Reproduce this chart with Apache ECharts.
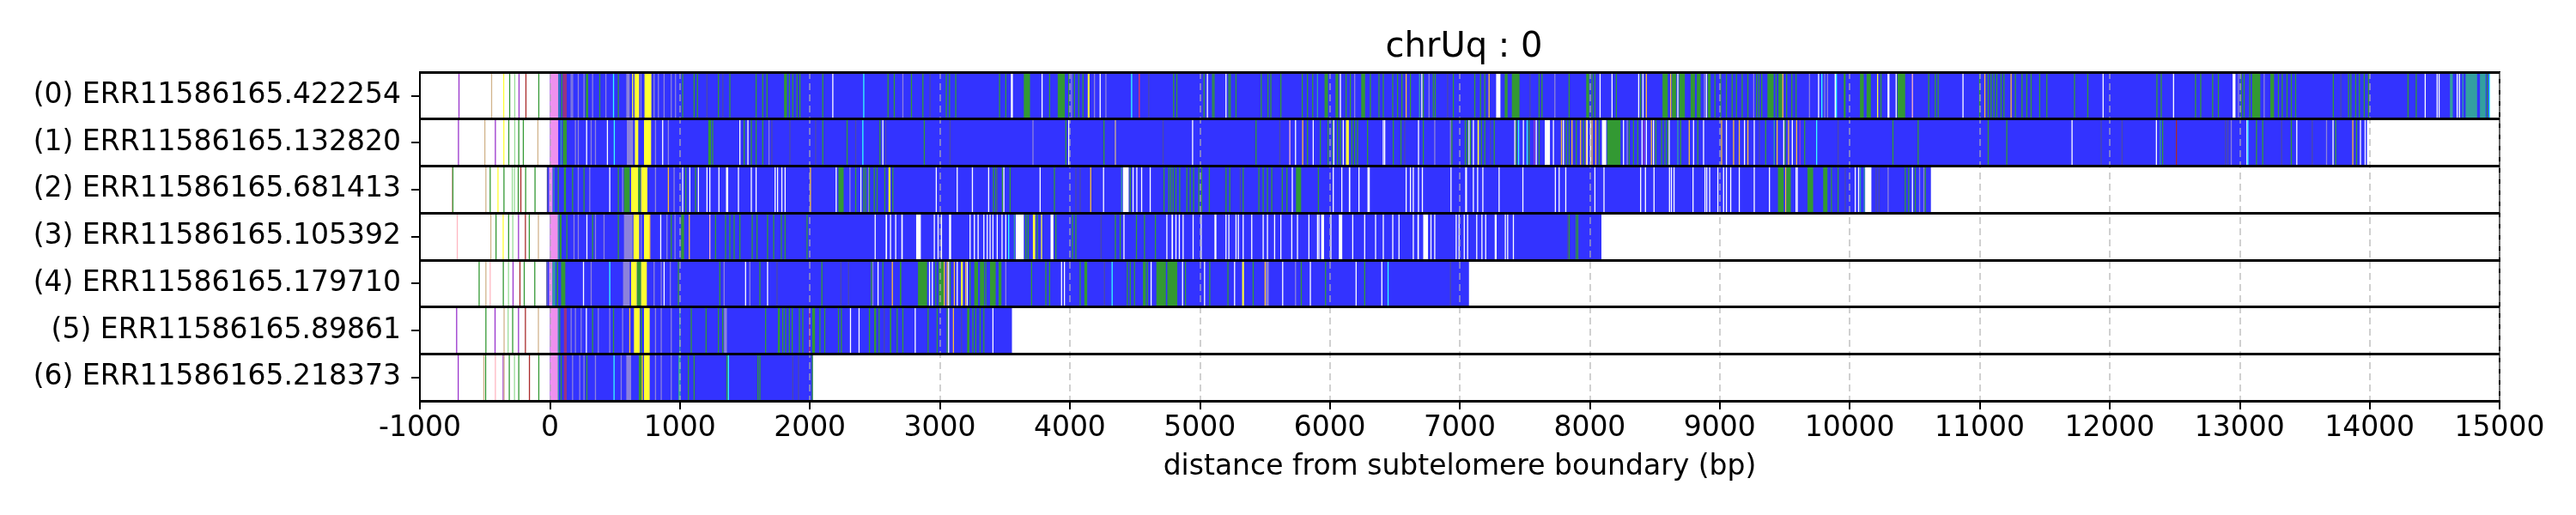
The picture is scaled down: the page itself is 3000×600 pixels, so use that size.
<!DOCTYPE html>
<html>
<head>
<meta charset="utf-8">
<script src="https://cdn.jsdelivr.net/npm/echarts@6/dist/echarts.min.js"></script>
<style>
  html, body { margin: 0; padding: 0; background: #fff; }
  #reads { width: 3000px; height: 600px; }
</style>
</head>
<body>
<div id="reads"></div>
<script>
// read names, top to bottom
var readLabels = [
    '(0) ERR11586165.422254',
    '(1) ERR11586165.132820',
    '(2) ERR11586165.681413',
    '(3) ERR11586165.105392',
    '(4) ERR11586165.179710',
    '(5) ERR11586165.89861',
    '(6) ERR11586165.218373'
];

// extent of the blue part of each read (bp)
var readStart = [0, 0, -20, 0, -20, 0, 0];
var readEnd = [14925, 13980, 10625, 8090, 7071, 3555, 2022];

// motif colours
var motifColors = {
    B: '#3333ff', G: '#339933', W: '#ffffff', Y: '#ffff33', P: '#ee90ee',
    L: '#8c82dc', C: '#33ffff', T: '#33a0a0', M: '#9933cc', R: '#aa2a2a',
    N: '#d2b48c', H: '#99dd99', K: '#ffb6c1', O: '#ffc030', D: '#4a4aa8',
    V: '#993380', S: '#ee3355'
};

// stripes per read: [pos, motif] for thin ones, [start, end, motif] for bands
var read0 = [[-700,'M'],[-449,'N'],[-356,'Y'],[-310,'G'],[-271,'H'],[-238,'M'],[-185,'R'],[-86,'G'],
    [0,64,'P'],[70,'T'],[90,'G'],[100,130,'V'],[163,'L'],[174,'L'],[218,'L'],[262,'L'],[277,295,'G'],[328,'L'],[383,'G'],[430,'L'],[489,'C'],[526,'G'],[588,614,'L'],[636,'Y'],[651,687,'Y'],[700,'L'],[728,781,'Y'],[801,'L'],[834,'L'],[878,'L'],[933,'L'],[966,'L'],[1021,'G'],[1109,'G'],[1135,'G'],[1208,'D'],[1296,'G'],[1330,'D'],[1384,'G'],
    [1586,'G'],[1637,'G'],[1670,'G'],[1802,1824,'G'],[1842,'G'],[1868,'G'],[1901,'G'],[1923,'G'],[2099,'G'],[2176,'W'],[2414,'C'],[2601,'G'],[2649,'G'],[2715,'L'],[2781,'G'],[2869,'G'],[2924,'D'],[3049,'G'],[3074,'G'],[3122,'G'],[3459,'G'],[3507,'G'],[3547,3562,'W'],[3646,3694,'G'],[3786,'W'],[3844,'G'],[3907,3962,'G'],[3991,'G'],[4013,'L'],[4035,'G'],[4068,'G'],
    [4101,'G'],[4138,4152,'Y'],[4189,'L'],[4233,'W'],[4277,'L'],[4475,'C'],[4534,'S'],[4607,'D'],[4798,'G'],[4823,'G'],[5032,'G'],[5058,'W'],[5098,'G'],[5109,'G'],[5201,'W'],[5223,'G'],[5234,'G'],[5278,'G'],[5472,'G'],[5524,'G'],[5546,'G'],[5623,'G'],[5788,'G'],[5828,'G'],[5868,'G'],[5905,'T'],[5960,5986,'G'],[6044,6066,'G'],[6081,'W'],[6125,'G'],[6158,'G'],[6191,'L'],[6242,6272,'G'],[6312,'G'],[6378,'G'],[6411,'G'],[6484,'G'],[6521,'G'],[6554,'G'],[6587,'O'],[6620,'G'],
    [6690,'T'],[6704,6712,'W'],[6719,'G'],[6763,'L'],[6796,'G'],[6811,'G'],[6906,'D'],[6950,'G'],[7115,'G'],[7159,'G'],[7192,'G'],[7225,'O'],[7280,7313,'W'],[7346,7368,'G'],[7401,7460,'G'],[7540,'D'],[7610,'G'],[7632,'G'],[7731,'L'],[7841,'G'],[7973,7995,'G'],[8017,'G'],[8039,'G'],[8079,'W'],[8171,'W'],[8204,'G'],[8376,'W'],[8391,'G'],[8409,'W'],[8435,'O'],[8560,8600,'G'],[8622,'O'],[8633,8666,'G'],[8677,'W'],[8688,8732,'G'],[8776,8809,'G'],[8824,8853,'G'],[8882,'L'],[8897,'W'],[8908,8930,'G'],[8963,'G'],[9007,'G'],[9051,'G'],[9095,'G'],[9128,'G'],[9172,'G'],[9216,'G'],
    [9261,'L'],[9283,'G'],[9301,'G'],[9323,'G'],[9367,9415,'G'],[9433,'G'],[9452,9481,'G'],[9485,'O'],[9514,'G'],[9554,'G'],[9587,'G'],[9690,'L'],[9760,'W'],[9785,'C'],[9807,'L'],[9829,'L'],[9888,'W'],[9897,'C'],[9954,9969,'G'],[10079,10108,'G'],[10130,10163,'G'],[10214,'Y'],[10240,'G'],[10291,10306,'W'],[10357,'W'],[10368,10427,'G'],[10482,'K'],[10607,'G'],[10658,'G'],[10680,'G'],[10871,'W'],[10999,'G'],[11039,'O'],[11065,'G'],[11087,'G'],[11109,'G'],[11131,'G'],[11164,'G'],[11186,'G'],[11241,'O'],[11274,'G'],[11325,'G'],[11362,'G'],[11395,'G'],[11461,'G'],[11516,'G'],[11729,'G'],
    [11831,'G'],[11949,'W'],[12363,'G'],[12396,'G'],[12491,'W'],[12660,'G'],[12700,'G'],[12792,'G'],[12836,'G'],[12946,12968,'W'],[12990,'L'],[13012,'G'],[13034,'G'],[13078,'G'],[13096,13159,'G'],[13188,'L'],[13236,13265,'G'],[13298,'G'],[13327,'G'],[13364,'G'],[13397,'G'],[13430,'G'],[13720,'G'],[13778,'D'],[13837,'G'],[13855,'G'],[13892,'G'],[13921,'G'],[13958,'G'],[13991,'G'],[14295,'G'],[14358,'G'],[14427,'W'],[14519,'W'],[14534,'W'],[14618,14640,'T'],[14673,'W'],[14690,'W'],[14717,'T'],[14739,14827,'T'],[14849,14893,'T'],[14904,'G'],[14922,'C']];

var read1 = [[-704,'M'],[-501,'N'],[-420,'M'],[-355,'Y'],[-317,'G'],[-271,'H'],[-240,'G'],[-205,'G'],[-93,'N'],
    [0,64,'P'],[86,'T'],[100,130,'G'],[196,'L'],[218,'L'],[282,'W'],[317,'L'],[350,'L'],[442,'W'],[495,'C'],[592,640,'L'],[654,680,'Y'],[724,779,'Y'],[812,'L'],[867,'W'],[911,'L'],[1219,1241,'G'],[1252,'G'],[1461,'W'],[1494,'G'],
    [1523,'W'],[1549,'G'],[1586,'G'],[1637,'G'],[1685,'L'],[1707,'D'],[1846,'D'],[2044,'D'],[2099,'G'],[2286,'G'],[2352,'D'],[2407,'C'],[2539,'G'],[2561,'W'],[2583,'D'],[2880,'G'],[3078,'D'],[3716,'L'],[3969,'G'],[3991,'W'],
    [4262,'G'],[4350,'N'],[4717,'D'],[4944,'W'],[5432,'G'],[5615,'D'],[5692,'K'],[5736,'W'],[5791,'O'],[5828,'G'],[5872,'W'],[5927,'G'],[5986,'G'],[6022,'G'],[6030,'W'],[6059,'G'],[6081,'G'],[6103,'W'],[6125,6147,'Y'],[6169,'G'],[6191,'G'],[6213,'G'],[6290,'G'],[6411,'W'],[6422,'W'],[6488,'G'],[6547,'G'],[6576,'D'],
    [6682,'W'],[6719,'G'],[6807,'L'],[6928,'L'],[6939,'G'],[7042,'G'],[7060,'G'],[7071,'W'],[7082,'G'],[7104,'W'],[7137,7148,'Y'],[7166,'G'],[7192,'G'],[7236,'D'],[7265,'G'],[7423,'W'],[7434,'G'],[7452,'C'],[7489,'W'],[7518,'C'],[7533,'G'],[7573,'M'],[7588,'W'],[7610,'G'],[7654,7694,'W'],[7720,'W'],[7782,'O'],[7797,'W'],[7819,'G'],[7841,'G'],[7863,'O'],[7896,'G'],[7929,'O'],[7951,'G'],[7973,'O'],[7980,'W'],[8006,'W'],[8017,'O'],[8046,'O'],[8072,'G'],[8094,8127,'W'],[8134,8237,'G'],[8259,'W'],[8288,'L'],[8303,'G'],[8336,'G'],[8369,'G'],[8402,'W'],[8417,'M'],[8435,'W'],[8474,'O'],[8490,'W'],[8508,'G'],[8552,'G'],[8578,'G'],[8600,'G'],[8611,'W'],[8677,'T'],[8699,'G'],[8765,'O'],[8798,'W'],[8831,'G'],[8875,'W'],[9014,'O'],[9051,'W'],[9106,'O'],[9150,'O'],[9190,'W'],[9216,'O'],
    [9265,'W'],[9305,'D'],[9353,'G'],[9419,'T'],[9441,'O'],[9492,'W'],[9503,'G'],[9529,'O'],[9558,'W'],[9591,'O'],[9617,'M'],[9653,'G'],[9745,'C'],[9910,'D'],[10332,'G'],[10526,'G'],[11065,'G'],[11208,'G'],[11710,'W'],
    [11934,'D'],[12095,'D'],[12359,'W'],[12389,'T'],[12407,'G'],[12513,'R'],[12891,'D'],[12909,'D'],[12935,'L'],[13056,'W'],[13063,'C'],[13129,'G'],[13177,'G'],[13322,'D'],[13397,'G'],[13439,'W'],[13558,'D'],[13668,'L'],[13718,'W'],[13738,'G'],[13870,'O'],[13899,'G'],[13929,'W'],[13965,'W']];

var read2 = [[-753,'K'],[-747,'G'],[-493,'N'],[-460,'G'],[-400,'Y'],[-354,'G'],[-290,'H'],[-273,'H'],[-244,'G'],[-224,'R'],[-187,'G'],[-115,'G'],
    [-20,'D'],[-6,20,'P'],[30,'T'],[64,'G'],[108,124,'G'],[174,'G'],[218,'L'],[262,'G'],[306,'L'],[460,'W'],[526,'G'],[559,'L'],[570,614,'G'],[625,680,'Y'],[680,698,'G'],[702,750,'Y'],[812,'L'],[911,'O'],[955,'L'],[1021,'W'],[1045,'G'],[1076,'W'],[1120,'G'],[1142,'W'],[1208,'W'],[1230,'W'],[1300,'W'],[1355,1372,'W'],[1450,'W'],
    [1549,'W'],[1586,'W'],[1732,'W'],[1751,'W'],[1784,'W'],[1809,'W'],[2004,'O'],[2202,'W'],[2220,2260,'G'],[2308,'L'],[2352,'G'],[2392,'W'],[2414,'G'],[2429,'G'],[2451,'L'],[2458,'G'],[2495,'G'],[2517,'G'],[2576,'G'],[2605,2620,'Y'],[2638,'G'],[2972,'W'],[3133,'W'],[3250,'W'],[3375,'W'],[3412,'G'],[3430,'G'],[3441,'D'],[3481,'G'],[3492,'W'],[3540,'G'],[3771,'W'],[3881,'G'],[4046,'D'],[4079,'D'],
    [4160,'O'],[4259,'W'],[4409,4453,'W'],[4398,'T'],[4464,'G'],[4486,'W'],[4515,'W'],[4552,'W'],[4618,'W'],[4724,'G'],[4761,'G'],[4776,'G'],[4794,'G'],[4816,'G'],[4845,'G'],[4900,'G'],[4926,'G'],[4952,'G'],[4992,'G'],[5014,'G'],[5073,'G'],[5201,'G'],[5230,'G'],[5311,'D'],[5333,'G'],[5454,'G'],[5487,'G'],[5520,'G'],[5553,'G'],[5634,'G'],[5670,'G'],[5711,'W'],[5740,5780,'G'],[5912,'G'],[6026,'W'],[6092,'W'],[6147,6158,'W'],[6224,'W'],[6290,6308,'W'],[6587,'W'],[6620,'W'],[6642,'W'],
    [6682,'W'],[6712,'W'],[6932,'W'],[7042,7056,'W'],[7104,'W'],[7137,'W'],[7177,'W'],[7302,'W'],[7485,'W'],[7735,'W'],[7764,'W'],[7815,'W'],[8039,'W'],[8109,'W'],[8391,'W'],[8428,'W'],[8494,'W'],[8613,'W'],[8628,'W'],[8648,'W'],[8794,'W'],[8886,'W'],[8900,'W'],[8922,'W'],[8985,'W'],[9029,'W'],[9051,'W'],[9084,'W'],[9150,'W'],
    [9265,'W'],[9382,'W'],[9448,9492,'G'],[9507,'O'],[9514,9547,'G'],[9587,'W'],[9596,'W'],[9675,9719,'G'],[9796,9829,'G'],[9859,'G'],[9910,'G'],[9965,'D'],[10042,'W'],[10068,'W'],[10081,'T'],[10119,10167,'W'],[10112,'T'],[10203,'D'],[10225,'D'],[10295,'L'],[10427,'G'],[10453,'G'],[10482,'W'],[10504,'G'],[10537,'L'],[10570,'L'],[10581,'G']];

var read3 = [[-713,'K'],[-455,'N'],[-415,'G'],[-360,'Y'],[-318,'G'],[-286,'H'],[-242,'M'],[-189,'R'],[-159,'G'],[-89,'N'],
    [0,64,'P'],[64,'T'],[75,90,'G'],[130,'G'],[185,'L'],[218,'L'],[284,'W'],[328,'G'],[350,'L'],[416,'L'],[526,'G'],[570,636,'L'],[643,687,'Y'],[702,'L'],[724,768,'Y'],[768,'O'],[852,'W'],[900,'L'],[933,'G'],[962,'L'],[1010,1032,'G'],[1072,'O'],[1230,'K'],[1274,'G'],[1351,'G'],[1384,'G'],[1417,'G'],[1461,'G'],
    [1556,'G'],[1593,'G'],[1674,'G'],[1721,'G'],[1780,'G'],[1809,'G'],[1978,'G'],[2502,'W'],[2583,2594,'W'],[2620,'W'],[2660,'W'],[2704,2715,'W'],[2818,2854,'W'],[2957,'W'],[2986,'W'],[3012,'W'],[3071,3087,'W'],[3232,'W'],[3265,'W'],[3294,'W'],[3338,'W'],[3364,'W'],[3386,'W'],[3408,'W'],[3441,'W'],[3478,'W'],[3507,'W'],[3529,'C'],[3573,'T'],[3584,3646,'W'],[3661,'G'],[3679,'G'],[3716,3734,'Y'],[3749,'G'],[3782,'Y'],[3852,3874,'W'],[3892,'G'],[4020,'G'],[4046,'G'],
    [4240,'D'],[4350,'G'],[4387,'G'],[4416,'W'],[4512,'G'],[4574,'G'],[4658,'G'],[4746,'W'],[4783,4794,'W'],[4816,'W'],[4842,'W'],[4871,'W'],[4948,'W'],[5010,'W'],[5113,5128,'W'],[5201,'W'],[5223,'W'],[5278,'W'],[5296,'W'],[5333,'W'],[5399,'W'],[5487,'W'],[5520,'W'],[5575,'W'],[5623,'W'],[5707,'W'],[5751,'W'],[5839,'W'],[5905,'W'],[5916,'W'],[5934,5956,'W'],[6008,'W'],[6070,6096,'W'],[6176,'W'],[6268,'W'],[6352,'W'],[6411,'W'],[6484,'W'],[6532,'W'],[6642,'W'],
    [6675,6686,'W'],[6719,6756,'W'],[6778,'W'],[6807,'W'],[6972,'W'],[6994,'W'],[7034,'W'],[7060,'W'],[7130,'W'],[7170,'W'],[7199,'W'],[7269,7284,'W'],[7350,'W'],[7368,'W'],[7412,'W'],[7830,'D'],[7841,'G'],[7896,'G'],[7907,'G']];

var read4 = [[-545,'G'],[-493,'N'],[-460,'K'],[-359,'G'],[-319,'H'],[-284,'M'],[-231,'R'],[-198,'G'],[-117,'G'],
    [-24,'D'],[-6,20,'P'],[20,42,'T'],[53,64,'G'],[86,119,'G'],[258,'W'],[317,'L'],[460,'C'],[563,614,'L'],[625,669,'Y'],[671,702,'G'],[702,746,'Y'],[801,'L'],[856,'L'],[878,'W'],[926,'L'],[988,'G'],[1307,'G'],[1340,'L'],[1505,'W'],
    [1538,'L'],[1615,'G'],[1674,'W'],[1747,'D'],[2092,'G'],[2238,'D'],[2297,'D'],[2473,'G'],[2484,'L'],[2524,'W'],[2561,'G'],[2634,'O'],[2693,2704,'G'],[2832,2902,'G'],[2920,'W'],[2942,'W'],[2968,'G'],[2990,3030,'G'],[3034,'O'],[3056,'O'],[3067,'W'],[3078,'G'],[3111,'O'],[3133,'W'],[3162,3177,'Y'],[3199,'O'],[3210,'W'],[3232,'G'],[3265,3294,'G'],[3309,3342,'G'],[3353,'G'],[3386,3430,'G'],[3452,3474,'G'],[3507,'L'],[3705,'G'],[3815,'G'],[3844,'G'],[3936,'W'],[3958,'W'],[4079,'G'],
    [4112,4134,'G'],[4266,'D'],[4325,'C'],[4442,'G'],[4464,'G'],[4497,'G'],[4563,4585,'G'],[4596,'G'],[4625,'W'],[4666,4739,'G'],[4750,4827,'G'],[4867,'W'],[4889,'G'],[5036,'W'],[5076,'G'],[5216,'G'],[5267,'W'],[5326,5340,'Y'],[5410,'G'],[5502,'O'],[5509,5531,'L'],[5637,'W'],[5736,'L'],[5780,'G'],[5850,'W'],[5967,'G'],[6202,'W'],[6268,'G'],[6400,'W'],[6448,'C'],
    [6928,'D']];

var read5 = [[-718,'M'],[-493,'G'],[-426,-419,'M'],[-353,'N'],[-322,'H'],[-287,'G'],[-242,'M'],[-189,'R'],[-89,'N'],
    [0,64,'P'],[64,'T'],[75,'G'],[108,130,'V'],[163,'L'],[196,'L'],[240,'L'],[280,'W'],[328,'G'],[372,'L'],[460,'L'],[489,'G'],[559,'L'],[614,'O'],[647,691,'Y'],[702,'G'],[724,768,'Y'],[812,'L'],[856,'L'],[933,'L'],[999,'T'],[1087,'G'],[1201,'G'],[1296,'G'],[1329,'G'],[1340,1362,'L'],
    [1659,'G'],[1754,1769,'G'],[1791,'G'],[1813,'G'],[1842,'G'],[1864,'G'],[1919,'G'],[1945,'G'],[1996,'V'],[2018,2040,'G'],[2077,'G'],[2114,'G'],[2220,'G'],[2242,'G'],[2312,'W'],[2378,'W'],[2458,'G'],[2495,2510,'G'],[2532,'G'],[2572,'D'],[2616,2627,'G'],[2671,'G'],[2715,'G'],[2810,'W'],[2909,'G'],[2979,'G'],[3056,'G'],[3067,'W'],[3104,'O'],[3166,'D'],[3210,3228,'G'],[3254,'G'],[3276,'G'],[3309,'G'],[3338,'G'],[3408,'W']];

var read6 = [[-706,'M'],[-509,'N'],[-495,'G'],[-420,'K'],[-360,'M'],[-353,'N'],[-313,'G'],[-273,'H'],[-240,'G'],[-158,'R'],[-86,'G'],
    [0,64,'P'],[64,'T'],[86,'G'],[108,130,'V'],[174,'L'],[229,'L'],[262,'L'],[284,'G'],[350,'L'],[493,'C'],[548,'L'],[588,625,'L'],[684,713,'G'],[710,'O'],[724,768,'Y'],[812,'L'],[856,'L'],[933,'L'],[988,1006,'T'],[1065,'G'],[1109,'G'],[1362,'G'],[1373,'C'],
    [1600,'G'],[1615,'G'],[1868,'D'],[1912,'D'],[2015,2022,'G']];

var reads = [read0, read1, read2, read3, read4, read5, read6];

// flatten to rects: [start, end, row], colours kept alongside
var rects = [];
var fills = [];
reads.forEach(function(stripes, row) {
    rects.push([readStart[row], readEnd[row], row]);
    fills.push(motifColors.B);
    stripes.forEach(function(s) {
        if (s.length === 2) {
            rects.push([s[0] - 3.5, s[0] + 3.5, row]);
            fills.push(motifColors[s[1]]);
        } else {
            rects.push([s[0], s[1], row]);
            fills.push(motifColors[s[2]]);
        }
    });
});

var readsChart = echarts.init(document.getElementById('reads'), null, { renderer: 'canvas' });

var option_reads = {
    animation: false,
    backgroundColor: '#ffffff',
    textStyle: { fontFamily: 'DejaVu Sans', color: '#000' },
    title: {
        text: 'chrUq : 0',
        left: 1700,
        top: 31,
        textAlign: 'center',
        textStyle: { fontSize: 40, fontWeight: 'normal', color: '#000', fontFamily: 'DejaVu Sans' }
    },
    grid: {
        left: 489,
        right: 89,
        top: 84,
        bottom: 133,
        show: true,
        borderColor: '#000',
        borderWidth: 2,
        backgroundColor: 'transparent'
    },
    xAxis: {
        type: 'value',
        min: -1000,
        max: 15000,
        interval: 1000,
        z: 5,
        name: 'distance from subtelomere boundary (bp)',
        nameLocation: 'middle',
        nameGap: 61,
        nameTextStyle: { fontSize: 33, color: '#000', fontFamily: 'DejaVu Sans' },
        axisLine: { show: true, onZero: false, lineStyle: { color: '#000', width: 2 } },
        axisTick: { show: true, length: 10, lineStyle: { color: '#000', width: 2 } },
        axisLabel: {
            fontSize: 33, color: '#000', margin: 16, showMinLabel: true, showMaxLabel: true,
            formatter: function(v) { return String(v); }
        },
        splitLine: {
            show: true,
            lineStyle: { color: 'rgba(176,176,176,0.6)', width: 2, type: [8, 5] }
        }
    },
    yAxis: {
        type: 'category',
        data: readLabels,
        inverse: true,
        z: 6,
        axisLine: { show: true, onZero: false, lineStyle: { color: '#000', width: 2 } },
        axisTick: { show: true, alignWithLabel: true, length: 10, lineStyle: { color: '#000', width: 2 } },
        axisLabel: { fontSize: 33, color: '#000', margin: 22 },
        splitLine: { show: true, lineStyle: { color: '#000', width: 3 } }
    },
    series: [{
        type: 'custom',
        clip: true,
        silent: true,
        encode: { x: [0, 1], y: 2 },
        data: rects,
        renderItem: function(params, api) {
            var p0 = api.coord([api.value(0), api.value(2)]);
            var p1 = api.coord([api.value(1), api.value(2)]);
            var h = api.size([0, 1])[1];
            var w = Math.max(p1[0] - p0[0], 1.3);
            return {
                type: 'rect',
                shape: { x: p0[0], y: p0[1] - h / 2, width: w, height: h },
                style: { fill: fills[params.dataIndex] }
            };
        }
    }]
};
readsChart.setOption(option_reads);

window.addEventListener('resize', readsChart.resize);
</script>
</body>
</html>
